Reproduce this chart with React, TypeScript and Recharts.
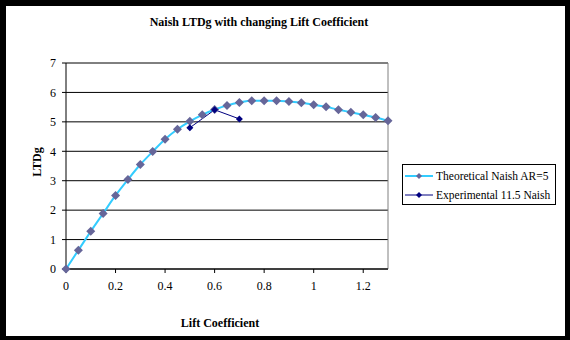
import React from 'react';
import {
  LineChart,
  Line,
  XAxis,
  YAxis,
  CartesianGrid,
  ReferenceLine,
  Label,
} from 'recharts';

const theoLift = [0, 0.05, 0.1, 0.15, 0.2, 0.25, 0.3, 0.35, 0.4, 0.45, 0.5, 0.55, 0.6, 0.65, 0.7, 0.75, 0.8, 0.85, 0.9, 0.95, 1.0, 1.05, 1.1, 1.15, 1.2, 1.25, 1.3];
const theoLTDg = [0, 0.64, 1.28, 1.89, 2.5, 3.04, 3.55, 3.99, 4.41, 4.75, 5.02, 5.24, 5.42, 5.56, 5.66, 5.72, 5.72, 5.72, 5.69, 5.65, 5.58, 5.51, 5.41, 5.33, 5.24, 5.15, 5.04];
const expLift = [0.5, 0.6, 0.7];
const expLTDg = [4.8, 5.41, 5.1];

const xTicks = [0, 0.2, 0.4, 0.6, 0.8, 1.0, 1.2];
const xTickLabels = ['0', '0.2', '0.4', '0.6', '0.8', '1', '1.2'];
const yTicks = [0, 1, 2, 3, 4, 5, 6, 7];

const titleText = 'Naish LTDg with changing Lift Coefficient';
const xTitle = 'Lift Coefficient';
const yTitle = 'LTDg';
const theoName = 'Theoretical Naish AR=5';
const expName = 'Experimental 11.5 Naish';

const theoData = theoLift.map((x, i) => ({ x, y: theoLTDg[i] }));
const expData = expLift.map((x, i) => ({ x, y: expLTDg[i] }));

const FONT = '"Liberation Serif", "Times New Roman", serif';
const CYAN = '#33CCFF';
const MARK = '#666699';
const NAVY = '#000080';

const diamond = (h: number, fill: string) => (props: any) => {
  const { cx, cy, index } = props;
  if (cx == null || cy == null) return <g key={`d-${index}`} />;
  return (
    <polygon
      key={`d-${index}`}
      points={`${cx},${cy - h} ${cx + h},${cy} ${cx},${cy + h} ${cx - h},${cy}`}
      fill={fill}
      stroke="none"
    />
  );
};

const LegendRow = ({ color, width, mark, h, label }: any) => (
  <div style={{ display: 'flex', alignItems: 'center', height: 19 }}>
    <svg width={32} height={12} style={{ flex: 'none' }}>
      <line x1={2} y1={6} x2={30} y2={6} stroke={color} strokeWidth={width} />
      <polygon points={`16,${6 - h} ${16 + h},6 16,${6 + h} ${16 - h},6`} fill={mark} />
    </svg>
    <span style={{ marginLeft: 1, whiteSpace: 'nowrap' }}>{label}</span>
  </div>
);

export default function App() {
  return (
    <div style={{ position: 'absolute', left: 0, top: 0, width: 570, height: 340, background: '#000', fontFamily: FONT }}>
      <div style={{ position: 'absolute', left: 6, top: 6, width: 559, height: 330, background: '#fff' }} />
      <div
        style={{
          position: 'absolute',
          left: 59,
          top: 15,
          width: 400,
          textAlign: 'center',
          fontWeight: 'bold',
          fontSize: 12,
          color: '#000',
        }}
      >
        {titleText}
      </div>
      <div style={{ position: 'absolute', left: 0, top: 0 }}>
        <LineChart width={570} height={340} margin={{ top: 63, right: 182, bottom: 41, left: 36 }}>
          <CartesianGrid vertical={false} stroke="#000" strokeWidth={1} />
          <XAxis
            type="number"
            dataKey="x"
            domain={[0, 1.3]}
            ticks={xTicks}
            height={30}
            stroke="#000"
            tickSize={4}
            tickMargin={8}
            tick={{ fill: '#000', fontSize: 12, fontFamily: FONT }}
            tickFormatter={(v: number) => xTickLabels[xTicks.indexOf(v)] ?? String(v)}
          >
            <Label
              content={() => (
                <text x={220} y={327} textAnchor="middle" fontWeight="bold" fontSize={12} fontFamily={FONT} fill="#000">
                  {xTitle}
                </text>
              )}
            />
          </XAxis>
          <YAxis
            type="number"
            dataKey="y"
            domain={[0, 7]}
            ticks={yTicks}
            width={30}
            stroke="#000"
            tickSize={4}
            tickMargin={6}
            tick={{ fill: '#000', fontSize: 12, fontFamily: FONT }}
          >
            <Label
              content={() => (
                <text
                  x={41}
                  y={162}
                  transform="rotate(-90 41 162)"
                  textAnchor="middle"
                  fontWeight="bold"
                  fontSize={12}
                  fontFamily={FONT}
                  fill="#000"
                >
                  {yTitle}
                </text>
              )}
            />
          </YAxis>
          <ReferenceLine y={7} stroke="#808080" strokeWidth={1} />
          <ReferenceLine x={1.3} stroke="#808080" strokeWidth={1} />
          <Line
            data={theoData}
            dataKey="y"
            name={theoName}
            type="monotone"
            stroke={CYAN}
            strokeWidth={2}
            dot={diamond(4.5, MARK)}
            activeDot={false}
            isAnimationActive={false}
          />
          <Line
            data={expData}
            dataKey="y"
            name={expName}
            type="linear"
            stroke={NAVY}
            strokeWidth={1}
            dot={diamond(3.5, NAVY)}
            activeDot={false}
            isAnimationActive={false}
          />
        </LineChart>
      </div>
      <div
        style={{
          position: 'absolute',
          left: 402,
          top: 164,
          width: 152,
          height: 38,
          border: '1px solid #000',
          background: '#fff',
          fontSize: 11.5,
          color: '#000',
          padding: '1px 0 0 0',
          boxSizing: 'content-box',
        }}
      >
        <LegendRow color={CYAN} width={2} mark={MARK} h={3} label={theoName} />
        <LegendRow color={NAVY} width={1} mark={NAVY} h={3} label={expName} />
      </div>
    </div>
  );
}
